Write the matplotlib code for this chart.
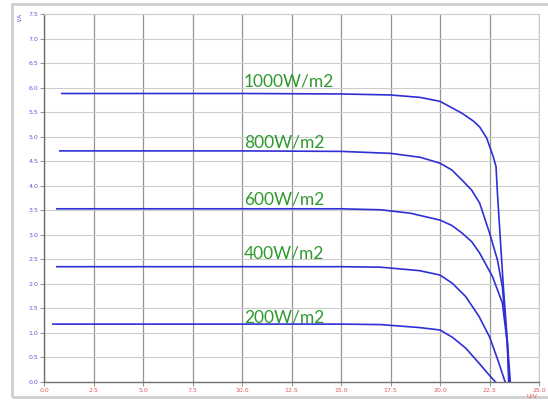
import numpy as np
import matplotlib
matplotlib.use("Agg")
import matplotlib.pyplot as plt
import matplotlib.patches as mpatches

# I-V curves (voltage in V, current in A)
v_1000 = [0.9, 5.0, 10.0, 15.0, 17.5, 19.0, 20.0, 21.1, 21.68, 22.0, 22.36, 22.69, 22.83, 22.9, 23.2, 23.55]
i_1000 = [5.88, 5.88, 5.88, 5.87, 5.85, 5.80, 5.72, 5.48, 5.32, 5.20, 4.97, 4.59, 4.39, 3.85, 1.94, 0.0]

v_800 = [0.8, 10.0, 15.0, 17.5, 19.0, 20.0, 20.6, 21.1, 21.6, 22.0, 22.5, 22.9, 23.15, 23.4, 23.5]
i_800 = [4.71, 4.71, 4.70, 4.66, 4.58, 4.46, 4.32, 4.12, 3.91, 3.65, 3.04, 2.49, 1.94, 0.79, 0.0]

v_600 = [0.65, 10.0, 15.0, 17.0, 18.5, 20.0, 20.6, 21.1, 21.6, 22.0, 22.65, 23.15, 23.4, 23.47]
i_600 = [3.53, 3.53, 3.53, 3.51, 3.44, 3.30, 3.19, 3.04, 2.86, 2.63, 2.15, 1.61, 0.79, 0.0]

v_400 = [0.65, 10.0, 15.0, 17.0, 18.95, 20.0, 20.63, 21.3, 21.98, 22.5, 22.92, 23.29]
i_400 = [2.35, 2.35, 2.35, 2.34, 2.27, 2.18, 2.01, 1.74, 1.33, 0.92, 0.45, 0.0]

v_200 = [0.45, 10.0, 15.0, 17.0, 18.95, 20.0, 20.63, 21.3, 21.98, 22.4, 22.8]
i_200 = [1.18, 1.18, 1.18, 1.17, 1.11, 1.06, 0.91, 0.69, 0.38, 0.18, 0.0]

labels = ["1000W/m2", "800W/m2", "600W/m2", "400W/m2", "200W/m2"]
label_y = [6.13, 4.89, 3.71, 2.61, 1.32]

x_ticks = np.arange(0, 25.01, 2.5)
y_ticks = np.arange(0, 7.51, 0.5)

fig = plt.figure(figsize=(5.48, 4.01), dpi=100)
fig.patch.set_facecolor("white")

# light frame round the whole chart
frame = mpatches.Rectangle((12 / 548, 4 / 401), 1.0, 393 / 401, transform=fig.transFigure,
                           fill=False, edgecolor="#cfcfcf", linewidth=2.0)
fig.patches.append(frame)

ax = fig.add_axes([44 / 548, 19 / 401, 495 / 548, 368 / 401])

curves = [(v_1000, i_1000), (v_800, i_800), (v_600, i_600), (v_400, i_400), (v_200, i_200)]
for v, i in curves:
    ax.plot(v, i, color="#2f2fd6", linewidth=1.2)

for lab, y in zip(labels, label_y):
    ax.text(10.1, y, lab, color="#2e9a2e", fontsize=12.5, family="Lato",
            ha="left", va="center")

ax.set_xlim(0, 25)
ax.set_ylim(0, 7.5)
ax.set_xticks(x_ticks)
ax.set_yticks(y_ticks)
ax.set_xticklabels(["%.1f" % t for t in x_ticks], color="#e05a5a", fontsize=4.5)
ax.set_yticklabels(["%.1f" % t for t in y_ticks], color="#5a5ae0", fontsize=4.5)
ax.tick_params(axis="both", length=3, width=0.6, color="#808080", pad=1.0)

for x in x_ticks:
    ax.axvline(x, color="#949494", linewidth=0.9, zorder=0)
for y in y_ticks:
    ax.axhline(y, color="#cccccc", linewidth=0.8, zorder=0)

for side in ["top", "right"]:
    ax.spines[side].set_color("#cccccc")
    ax.spines[side].set_linewidth(0.8)
for side in ["left", "bottom"]:
    ax.spines[side].set_color("#707070")
    ax.spines[side].set_linewidth(1.0)

fig.text(19 / 548, 1 - 17 / 401, "I/A", rotation=90, color="#5a5ae0", fontsize=4.5,
         ha="center", va="center")
fig.text(532 / 548, 1 - 396 / 401, "U/V", color="#e05a5a", fontsize=4.5,
         ha="center", va="center")

fig.savefig("out.png", dpi=100)
